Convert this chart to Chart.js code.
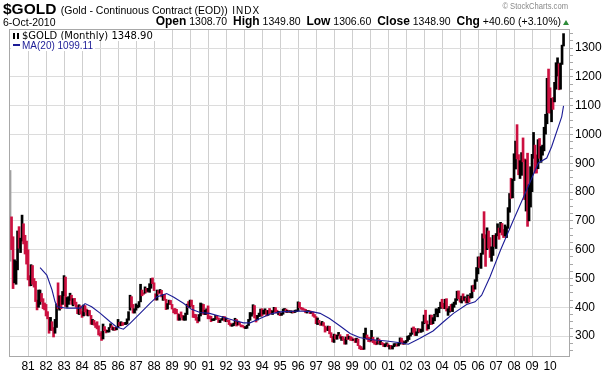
<!DOCTYPE html>
<html>
<head>
<meta charset="utf-8">
<script src="https://cdn.jsdelivr.net/npm/chart.js@4.4.0/dist/chart.umd.min.js"></script>
<style>
  body { margin: 0; background: #fff; }
  #wrap { position: relative; width: 603px; height: 375px; font-family: Arial, "Liberation Sans", sans-serif; color: #000; }
  #c { position: absolute; left: 0; top: 0; }
  .abs { position: absolute; white-space: nowrap; }
  #title { left: 3px; top: 0px; line-height: 17px; }
  #title b { font-size: 15.5px; }
  #title .sub { font-size: 10.5px; }
  #title .indx { font-size: 10px; letter-spacing: 1px; }
  #date { left: 3px; top: 16px; font-size: 10.5px; line-height: 12px; }
  #quote { right: 42px; top: 15px; font-size: 10.5px; line-height: 13px; }
  #quote b { font-size: 12px; }
  #tri { position: absolute; left: 563px; top: 20px; width: 0; height: 0; border-left: 3px solid transparent; border-right: 3px solid transparent; border-bottom: 5px solid #2e8b3a; }
  #copy { right: 35px; top: 1px; font-size: 9.5px; color: #888; line-height: 10px; transform: scaleX(0.8); transform-origin: right center; }
  #leg1 { left: 11px; top: 30px; font-family: "DejaVu Sans", Verdana, sans-serif; font-size: 10px; line-height: 11px; background: #fff; padding: 0 2px; }
  #leg2 { left: 11px; top: 40px; font-size: 10px; line-height: 11px; color: #1c1c96; background: #fff; padding: 0 2px; }
  .ico { display: inline-block; width: 6px; height: 6px; border-left: 2px solid #000; border-right: 2px solid #000; margin-right: 3px; vertical-align: 0px; box-sizing: border-box; }
  .dash { display: inline-block; width: 7px; height: 2px; background: #1c1c96; margin-right: 2px; vertical-align: 3px; }
</style>
</head>
<body>
<div id="wrap">
  <canvas id="c" width="603" height="375"></canvas>
  <div id="title" class="abs"><b>$GOLD</b> <span class="sub">(Gold - Continuous Contract (EOD))</span> <span class="indx">INDX</span></div>
  <div id="copy" class="abs">&copy; StockCharts.com</div>
  <div id="date" class="abs">6-Oct-2010</div>
  <div id="quote" class="abs"><b>Open</b> 1308.70 &nbsp;<b>High</b> 1349.80 &nbsp;<b>Low</b> 1306.60 &nbsp;<b>Close</b> 1348.90 &nbsp;<b>Chg</b> +40.60 (+3.10%)</div>
  <div id="tri"></div>
  <div id="leg1" class="abs"><span class="ico"></span>$GOLD (Monthly) 1348.90</div>
  <div id="leg2" class="abs"><span class="dash"></span>MA(20) 1099.11</div>
</div>
<script>
// monthly bars, Jan 1980 .. Oct 2010 (one row per year)
const closes = [
  653,637,494,518,535,653,614,631,666,629,619,590,
  502,489,540,481,480,422,408,426,429,427,414,400,
  384,362,320,350,325,315,342,411,397,423,414,448,
  481,408,414,430,437,413,424,414,405,382,405,382,
  372,394,388,375,384,373,342,348,343,333,329,309,
  306,299,326,320,315,318,328,333,325,326,325,327,
  345,338,345,344,343,346,357,385,424,401,383,391,
  404,405,420,452,451,448,462,455,460,469,490,484,
  458,426,457,451,453,436,437,427,398,412,422,410,
  395,387,384,377,362,373,369,359,367,375,409,401,
  415,407,368,367,363,352,372,387,408,379,384,392,
  367,364,355,357,360,368,363,347,355,358,366,353,
  354,353,342,336,337,343,358,340,350,339,334,333,
  329,329,337,355,378,378,401,372,356,369,370,391,
  380,381,391,376,386,385,382,386,394,384,383,383,
  376,377,392,392,386,389,383,383,385,383,387,387,
  405,400,396,392,391,382,385,387,379,379,371,369,
  345,362,349,340,345,335,326,325,333,311,296,290,
  304,297,302,307,294,297,288,273,294,292,294,288,
  287,288,279,286,268,262,256,255,300,300,292,290,
  284,293,278,274,272,289,276,277,274,265,270,273,
  266,267,258,264,266,271,266,273,293,280,275,279,
  282,297,302,309,326,318,306,313,324,317,318,347,
  367,347,336,337,364,346,354,375,385,386,398,417,
  402,397,424,387,394,395,391,410,416,428,453,438,
  423,436,428,436,417,435,430,435,471,470,496,518,
  569,564,584,654,645,616,634,626,599,604,648,636,
  650,666,663,679,659,650,665,673,743,795,783,834,
  924,975,917,863,888,928,913,830,885,718,817,884,
  928,943,917,884,979,927,954,955,1007,1041,1182,1095,
  1083,1118,1113,1180,1213,1244,1181,1247,1308,1349
];
const highs = [
  875,714,645,565,560,665,680,640,720,690,650,630,
  600,510,548,545,500,490,425,460,460,448,430,415,
  410,385,365,365,350,330,358,412,485,440,440,455,
  510,505,434,437,449,442,430,431,418,406,409,405,
  385,408,406,394,390,389,372,358,355,346,350,336,
  310,316,342,333,322,320,330,343,336,330,330,330,
  358,348,350,347,346,348,360,385,442,437,410,395,
  412,407,420,480,460,450,471,466,466,482,500,502,
  485,447,460,458,462,459,444,445,428,413,425,424,
  410,395,396,393,378,375,384,372,370,380,411,420,
  425,425,407,376,375,365,375,415,412,410,390,395,
  405,370,369,360,361,372,370,363,355,361,368,368,
  363,356,355,345,340,345,362,358,352,348,339,338,
  334,333,338,358,382,381,409,406,372,372,380,394,
  395,390,395,389,389,396,390,388,400,399,390,386,
  382,380,394,396,394,390,389,388,387,387,390,391,
  419,417,400,398,395,393,388,389,388,385,384,375,
  368,363,355,346,351,347,335,330,335,334,312,299,
  307,305,303,313,305,298,298,290,297,306,300,298,
  295,290,291,293,290,267,264,259,310,328,304,296,
  293,320,296,286,278,294,290,282,278,275,272,277,
  273,268,268,266,274,274,272,276,294,293,284,281,
  285,300,302,311,328,332,327,315,326,325,324,350,
  373,390,353,340,373,373,364,376,395,394,400,418,
  428,414,428,430,395,403,410,412,418,430,456,457,
  430,439,447,437,432,443,438,448,475,477,496,538,
  575,575,588,655,732,652,676,665,642,610,650,650,
  656,690,675,695,691,670,686,680,746,795,848,845,
  933,977,1034,930,909,937,988,915,912,935,825,888,
  931,1007,963,929,982,986,958,963,1025,1070,1195,1227,
  1162,1125,1128,1181,1249,1266,1245,1248,1310,1350
];
const lows = [
  560,600,465,485,480,530,605,590,630,620,585,550,
  495,474,475,480,470,420,391,400,410,420,395,391,
  370,360,310,320,320,297,310,330,395,390,395,410,
  440,403,400,410,424,410,405,410,400,378,375,378,
  365,370,384,372,370,372,341,340,338,330,325,304,
  300,285,290,319,311,314,314,330,322,320,320,322,
  330,336,336,337,340,340,342,355,390,400,380,380,
  390,398,401,419,440,445,449,452,455,452,466,482,
  458,425,425,446,450,436,424,425,392,394,410,409,
  394,381,377,378,355,355,365,356,355,355,375,399,
  400,404,365,364,355,346,352,370,380,375,375,375,
  360,360,350,354,354,358,360,347,347,355,356,352,
  350,350,340,335,334,336,342,335,339,338,332,332,
  328,326,327,337,355,369,376,363,349,356,368,369,
  370,376,378,370,372,377,378,375,385,381,380,374,
  371,372,376,389,382,382,383,382,380,381,382,385,
  387,399,393,390,390,381,380,385,378,379,369,365,
  343,340,346,337,338,335,314,320,319,308,295,280,
  278,290,289,301,292,285,286,272,272,288,290,285,
  284,285,278,278,267,256,253,253,254,292,289,281,
  280,283,277,272,270,272,275,270,271,264,263,266,
  263,255,256,255,263,266,265,266,272,278,271,272,
  277,282,288,300,306,313,302,302,311,314,313,316,
  343,346,320,325,340,340,343,353,376,367,381,396,
  400,395,395,387,372,383,387,385,400,410,424,430,
  418,415,425,422,415,415,418,432,433,455,463,490,
  516,538,535,584,640,542,600,605,573,560,580,611,
  604,648,636,660,651,642,648,642,674,730,778,780,
  840,880,915,860,847,858,905,774,734,681,700,748,
  801,917,866,866,881,917,903,928,943,1001,1037,1075,
  1074,1044,1087,1113,1157,1203,1155,1157,1243,1307
];

// MA(20) (month index from Jan 1980, value)
const maMonths = [20,24.5,28,30,31.5,38,47,50,54.4,60,66.7,71,75.6,80,86.7,93.3,97.8,104.4,108.9,115.6,121,126.7,
  133,140,149,155.6,160,166.7,173,180,193,202,206.7,213,220,226.7,233,240,251,260,265.5,273,282,289,295.6,
  304.4,310,314.4,320,327,335.6,344.4,352.2,357.8,361.1,367.8,369];
const maValues = [538,512,460,419,402,397,397,413,402,380,350,332,324,344,379,414,436,448,436,414,393,382,
  379,369,355,346,346,361,376,384,387,384,379,361,335,309,295,288,283,277,272,292,318,350,379,
  410,419,442,506,599,703,807,901,918,958,1062,1099];

const yearLabels = ['81','82','83','84','85','86','87','88','89','90','91','92','93','94','95',
  '96','97','98','99','00','01','02','03','04','05','06','07','08','09','10'];
const priceTicks = [300,400,500,600,700,800,900,1000,1100,1200,1300];

const upColor = '#000000';
const downColor = '#cc1040';

const barData = closes.map((c, i) => ({ x: i, y: [lows[i], highs[i]] }));
const barColors = closes.map((c, i) => i === 0 ? '#a0a0a0' : (c < closes[i - 1] ? downColor : upColor));
const maData = maMonths.map((m, i) => ({ x: m, y: maValues[i] }));

const framePlugin = {
  id: 'frame',
  afterDraw(chart) {
    const a = chart.chartArea, ctx = chart.ctx;
    ctx.save();
    ctx.strokeStyle = '#a8a8a8';
    ctx.lineWidth = 1;
    ctx.strokeRect(a.left + 0.5, a.top + 0.5, a.right - a.left - 1, a.bottom - a.top);
    ctx.restore();
  }
};

new Chart(document.getElementById('c'), {
  type: 'bar',
  data: {
    datasets: [
      {
        type: 'line',
        data: maData,
        borderColor: '#1c1c96',
        borderWidth: 1.1,
        pointRadius: 0,
        tension: 0,
        order: 0
      },
      {
        type: 'bar',
        data: barData,
        backgroundColor: barColors,
        borderWidth: 0,
        barThickness: 2,
        order: 1
      }
    ]
  },
  options: {
    responsive: false,
    animation: false,
    events: [],
    layout: { padding: { left: 9, top: 29, right: 0, bottom: 0 } },
    plugins: { legend: { display: false }, tooltip: { enabled: false } },
    scales: {
      x: {
        type: 'linear',
        offset: false,
        min: -0.7,
        max: 373.3,
        afterBuildTicks: axis => { axis.ticks = yearLabels.map((l, i) => ({ value: 12 * (i + 1) })); },
        afterFit: scale => { scale.height = 19; },
        grid: { color: '#cfcfcf', drawTicks: false, offset: false },
        border: { display: false },
        ticks: {
          padding: 3,
          maxRotation: 0,
          autoSkip: false,
          color: '#000',
          font: { family: 'Arial, "Liberation Sans"', size: 12 },
          callback: (v, i) => yearLabels[i]
        }
      },
      y: {
        position: 'right',
        min: 231,
        max: 1366,
        afterBuildTicks: axis => {
          const t = [];
          for (let v = 250; v <= 1350; v += 25) t.push({ value: v });
          axis.ticks = t;
        },
        afterFit: scale => { scale.width = 33; },
        grid: {
          color: ctx => (priceTicks.includes(ctx.tick.value) ? '#dcdcdc' : 'rgba(0,0,0,0)'),
          tickColor: '#a8a8a8',
          tickLength: 3
        },
        border: { display: false },
        ticks: {
          padding: 2,
          autoSkip: false,
          color: '#000',
          font: { family: 'Arial, "Liberation Sans"', size: 12 },
          callback: v => (priceTicks.includes(v) ? String(v) : '')
        }
      }
    }
  },
  plugins: [framePlugin]
});
</script>
</body>
</html>
